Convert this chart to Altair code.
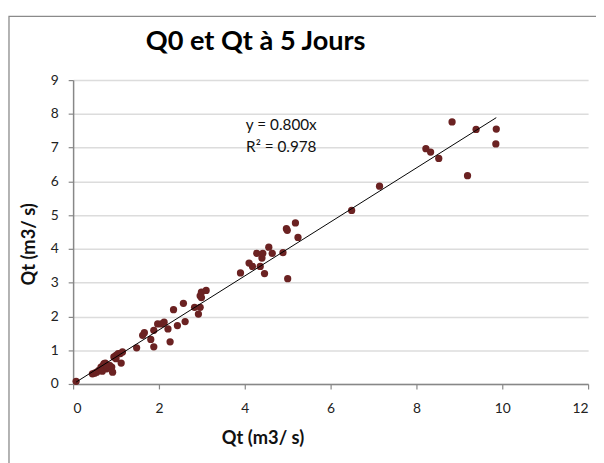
import altair as alt
import pandas as pd

# Data
q0 = [0.07, 0.45, 0.50, 0.55, 0.60, 0.65, 0.68, 0.70, 0.72, 0.75, 0.78, 0.80, 0.85, 0.90, 0.92,
      0.95, 1.00, 1.00, 1.05, 1.10, 1.12, 1.15,
      1.48, 1.62, 1.66, 1.81, 1.88, 1.88, 1.97, 2.06, 2.12, 2.21, 2.26, 2.34, 2.43, 2.57, 2.61,
      2.83, 2.92, 2.96, 2.96, 2.99, 2.99, 3.10,
      3.90, 4.10, 4.18, 4.28, 4.36, 4.40, 4.42, 4.46, 4.56, 4.64, 4.89, 4.97, 4.99, 5.00, 5.18, 5.24,
      6.49, 7.14, 8.22, 8.33, 8.52, 8.83, 9.19, 9.39, 9.86, 9.85]
qt = [0.08, 0.30, 0.32, 0.35, 0.40, 0.50, 0.38, 0.55, 0.60, 0.62, 0.45, 0.50, 0.55, 0.50, 0.35,
      0.80, 0.85, 0.75, 0.90, 0.90, 0.62, 0.95,
      1.07, 1.44, 1.52, 1.32, 1.10, 1.59, 1.78, 1.78, 1.83, 1.63, 1.25, 2.20, 1.73, 2.39, 1.85,
      2.27, 2.07, 2.27, 2.61, 2.72, 2.56, 2.77,
      3.29, 3.58, 3.48, 3.87, 3.48, 3.73, 3.87, 3.27, 4.05, 3.87, 3.89, 4.60, 4.55, 3.12, 4.77, 4.34,
      5.14, 5.86, 6.97, 6.87, 6.68, 7.76, 6.17, 7.54, 7.55, 7.11]

slope = 0.800
title_text = "Q0 et Qt à 5 Jours"
axis_title = "Qt (m3/ s)"
eq_lines = ["y = 0.800x", "R² = 0.978"]

FONT = "Lato"
W, H = 522, 308

df = pd.DataFrame({"q0": q0, "qt": qt})
xmin, xmax = min(q0), max(q0)
trend = pd.DataFrame({"q0": [xmin, xmax], "qt": [slope * xmin, slope * xmax]})

xscale = alt.Scale(domain=[0, 12], nice=False, zero=True)
yscale = alt.Scale(domain=[0, 9], nice=False, zero=True)

xaxis = alt.Axis(values=[0, 2, 4, 6, 8, 10, 12], grid=False, domainColor="#878787",
                 domainWidth=1.5, tickColor="#878787", tickSize=5, tickWidth=1.2,
                 labelFont=FONT, labelFontSize=14, labelColor="#222", labelPadding=13,
                 labelOverlap=False,
                 title=axis_title, titleFont=FONT, titleFontSize=18.5, titleFontWeight="bold",
                 titleColor="#111", titleX=192, titleY=60, titleBaseline="alphabetic",
                 titleAlign="center")
yaxis = alt.Axis(values=list(range(10)), grid=True, gridColor="#dcdcdc", gridWidth=1.5,
                 domainColor="#878787", domainWidth=1.5, tickColor="#878787", tickSize=5,
                 tickWidth=1.2, labelFont=FONT, labelFontSize=14, labelColor="#222",
                 labelPadding=10, labelOverlap=False, title=axis_title, titleFont=FONT,
                 titleFontSize=18.5, titleFontWeight="bold", titleColor="#111", titleX=-45,
                 titleY=166, titleAngle=270, titleAlign="center", titleBaseline="middle")

points = alt.Chart(df).mark_circle(size=54, color="#6b2222", opacity=1).encode(
    x=alt.X("q0:Q", scale=xscale, axis=xaxis),
    y=alt.Y("qt:Q", scale=yscale, axis=yaxis),
)

line = alt.Chart(trend).mark_line(color="#000", strokeWidth=1).encode(
    x=alt.X("q0:Q", scale=xscale, axis=xaxis),
    y=alt.Y("qt:Q", scale=yscale, axis=yaxis),
)

title = alt.Chart(pd.DataFrame({"t": [title_text]})).mark_text(
    font=FONT, fontSize=27.5, fontWeight="bold", color="#000", align="center",
    baseline="alphabetic").encode(text="t:N", x=alt.value(185), y=alt.value(-31))

eq = alt.Chart(pd.DataFrame({"t": eq_lines, "yy": [51, 73]})).mark_text(
    font=FONT, fontSize=15.5, color="#111", align="center", baseline="alphabetic").encode(
    text="t:N", x=alt.value(211), y=alt.Y("yy:Q", scale=None, axis=None))

border = alt.Chart(pd.DataFrame({"a": [0]})).mark_rect(
    fill=None, stroke="#8a8a8a", strokeWidth=1.3).encode(
    x=alt.value(-65), x2=alt.value(560), y=alt.value(-64.5), y2=alt.value(500))

chart = alt.layer(border, points, line, title, eq).properties(
    width=W, height=H,
    background="white",
    autosize=alt.AutoSizeParams(type="none"),
    padding={"left": 66, "top": 70, "right": 8, "bottom": 77},
).configure_view(stroke=None)

chart.save("out.html", embed_options={"renderer": "svg", "actions": False})
